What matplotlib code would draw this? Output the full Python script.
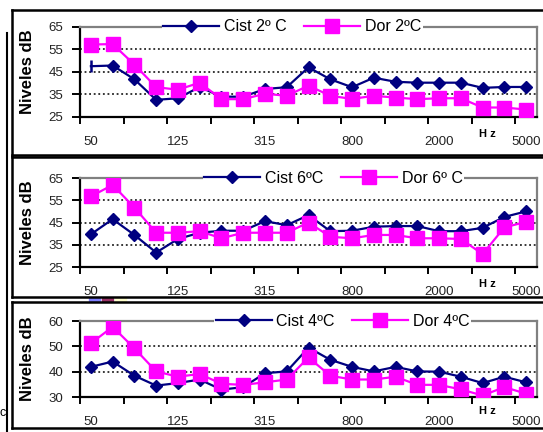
import matplotlib
matplotlib.use('Agg')
import matplotlib.pyplot as plt
from matplotlib.lines import Line2D
from matplotlib.patches import Rectangle

plt.rcParams['font.family'] = ['Liberation Sans', 'DejaVu Sans']

# third-octave bands, 50 Hz .. 5000 Hz
bands = ['50', '63', '80', '100', '125', '160', '200', '250', '315', '400', '500',
         '630', '800', '1000', '1250', '1600', '2000', '2500', '3150', '4000', '5000']

cist_2 = [47.5, 47.8, 41.7, 32.6, 33.3, 38.3, 34.0, 34.0, 37.4, 38.2, 47.0,
          41.7, 38.2, 42.4, 40.6, 40.2, 40.2, 40.2, 37.9, 38.3, 38.3]
dor_2 = [57.1, 57.3, 48.2, 38.2, 37.1, 40.2, 32.9, 32.9, 35.3, 34.4, 38.9,
         34.4, 33.0, 34.4, 33.6, 32.9, 33.3, 33.3, 29.2, 29.2, 28.3]
cist_6 = [39.7, 46.5, 39.4, 31.5, 37.6, 40.4, 41.3, 41.3, 45.6, 43.8, 48.3,
          41.1, 41.3, 43.1, 43.4, 43.4, 41.1, 41.1, 42.6, 47.5, 50.0]
dor_6 = [56.7, 61.9, 51.7, 40.4, 40.4, 41.1, 37.9, 40.4, 40.4, 40.4, 45.0,
         38.6, 37.9, 39.4, 39.4, 37.9, 37.9, 37.6, 30.8, 42.8, 45.3]
cist_4 = [41.9, 44.0, 38.4, 34.5, 35.5, 36.9, 32.9, 33.9, 39.4, 40.1, 49.5,
          44.7, 41.9, 40.1, 41.9, 40.1, 40.0, 38.0, 35.5, 38.0, 35.8]
dor_4 = [51.2, 57.7, 49.2, 40.1, 38.0, 39.1, 35.2, 34.8, 35.8, 36.9, 45.6,
         38.4, 36.9, 36.9, 38.0, 34.8, 34.8, 33.0, 30.6, 33.9, 31.3]

W, H = 543, 432
fig = plt.figure(figsize=(W / 100, H / 100), dpi=100)
fig.patch.set_facecolor('white')


def fx(x):
    return x / W


def fy(y):
    return 1 - y / H


def box(top, bottom):
    # chart frame, open on the right (cut off by the picture edge)
    kw = dict(color='black', lw=1.8, transform=fig.transFigure)
    fig.add_artist(Line2D([fx(12), fx(560)], [fy(top), fy(top)], **kw))
    fig.add_artist(Line2D([fx(12), fx(560)], [fy(bottom), fy(bottom)], **kw))
    fig.add_artist(Line2D([fx(12), fx(12)], [fy(top), fy(bottom)], **kw))


box(10, 155)
box(157, 297)
box(302, 428)
# stray edges of charts lying underneath
fig.add_artist(Line2D([fx(7), fx(7)], [fy(33), fy(432)], color='black', lw=1.5,
                      transform=fig.transFigure))
for x0, c in [(89, '#8080ff'), (102, '#993366'), (115, '#ffffcc')]:
    fig.add_artist(Rectangle((fx(x0), fy(301)), fx(11), 3 / H,
                             color=c, transform=fig.transFigure))
fig.text(fx(0), fy(413), 'c', fontsize=9, va='center', ha='left')

panels = [
    (26.7, 117, (25, 65), [25, 35, 45, 55, 65], cist_2, dor_2,
     'Cist 2º C', 'Dor 2ºC', 0.465),
    (178, 267, (25, 65), [25, 35, 45, 55, 65], cist_6, dor_6,
     'Cist 6ºC', 'Dor 6º C', 0.555),
    (321, 397, (30, 60), [30, 40, 50, 60], cist_4, dor_4,
     'Cist 4ºC', 'Dor 4ºC', 0.575),
]

x = list(range(len(bands)))

for i, (top, bottom, ylim, yticks, cist, dor, lab_c, lab_d, lx) in enumerate(panels):
    ax = fig.add_axes([fx(80), fy(bottom), fx(457), (bottom - top) / H])
    ax.set_xlim(-0.5, len(bands) - 0.5)
    ax.set_ylim(*ylim)

    if i == 0:
        # first point of this series shows as a bar instead of a diamond
        ax.plot(x, cist, color='#000080', lw=1.6, marker='D', markersize=6.5,
                markevery=list(range(1, len(x))), label=lab_c, zorder=3)
        ax.plot(x[0], cist[0], color='#000080', marker='|', markersize=9,
                mew=1.8, zorder=3)
    else:
        ax.plot(x, cist, color='#000080', lw=1.6, marker='D', markersize=6.5,
                label=lab_c, zorder=3)
    ax.plot(x, dor, color='#ff00ff', lw=1.6, marker='s', markersize=9.5,
            label=lab_d, zorder=3)

    for g in yticks[1:-1]:
        ax.axhline(g, color='black', lw=1.1, ls=(0, (1.2, 1.8)), zorder=1)

    for s in ['left', 'bottom']:
        ax.spines[s].set_color('black')
        ax.spines[s].set_linewidth(1.6)
    for s in ['top', 'right']:
        ax.spines[s].set_color('#808080')
        ax.spines[s].set_linewidth(1.6)

    ax.set_yticks(yticks)
    ax.set_yticklabels([str(v) for v in yticks])
    ax.tick_params(axis='y', length=6, width=1.4, pad=6, labelsize=9.5,
                   colors='black', labelcolor='#222222')

    ax.set_xticks([k - 0.5 for k in range(0, len(bands), 2)])
    ax.set_xticklabels([])
    ax.tick_params(axis='x', which='major', length=5, width=1.4, direction='out')
    ax.set_xticks(x[::4], minor=True)
    ax.set_xticklabels(bands[::4], minor=True)
    ax.tick_params(axis='x', which='minor', length=0, pad=14, labelsize=9.5,
                   labelcolor='#222222')
    ax.text(18.2, -0.19, 'H z', transform=ax.get_xaxis_transform(),
            ha='center', va='center', fontsize=8, fontweight='bold')

    ax.set_ylabel('Niveles dB', fontsize=12, fontweight='bold')
    ax.yaxis.set_label_coords(-0.098, 0.5)

    leg = ax.legend(loc='center', bbox_to_anchor=(lx, 1.0), ncol=2,
                    frameon=True, fontsize=11.5, handlelength=3.5,
                    columnspacing=1.1, handletextpad=0.3, borderpad=0.1,
                    borderaxespad=0)
    leg.get_frame().set_facecolor('white')
    leg.get_frame().set_edgecolor('none')
    leg.get_frame().set_alpha(1)
    leg.set_zorder(5)

fig.savefig('out.png', dpi=100)
